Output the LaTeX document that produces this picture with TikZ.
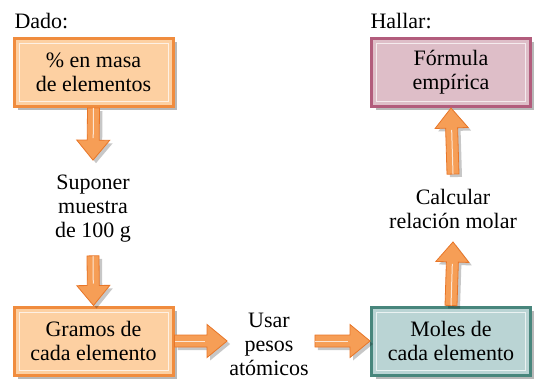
\documentclass[tikz,border=0pt]{standalone}
\usepackage{fontspec}
\setmainfont{Liberation Serif}
\newfontfamily\textoserif{Liberation Serif}
\usetikzlibrary{calc,shadows}

\definecolor{naranja}{RGB}{253,208,162}
\definecolor{naranjaborde}{RGB}{240,140,62}
\definecolor{rosa}{RGB}{222,190,200}
\definecolor{rosaborde}{RGB}{178,92,124}
\definecolor{verde}{RGB}{186,212,212}
\definecolor{verdeborde}{RGB}{72,134,124}
\definecolor{flecha}{RGB}{246,158,86}
\definecolor{flechaborde}{RGB}{232,118,40}

\begin{document}
\begin{tikzpicture}[
  x=1pt, y=-1pt,
  font=\textoserif\fontsize{22}{24}\selectfont,
  box/.style={draw, line width=3pt, minimum width=159pt, minimum height=68pt, align=center,
    drop shadow={shadow xshift=4pt, shadow yshift=-4pt, fill=black, opacity=0.28},
    path picture={\draw[white, opacity=0.7, line width=0.8pt]
      ([shift={(5pt,5pt)}]path picture bounding box.south west) rectangle
      ([shift={(-5pt,-5pt)}]path picture bounding box.north east);}},
  dado/.style={box, draw=naranjaborde, fill=naranja},
  hallar/.style={box, draw=rosaborde, fill=rosa},
  moles/.style={box, draw=verdeborde, fill=verde},
  texto/.style={align=center, inner sep=1pt},
  fat/.style={fill=flecha, draw=flechaborde, line width=0.8pt,
    drop shadow={shadow xshift=3pt, shadow yshift=-3pt, fill=black, opacity=0.22},
    to path={let \p1=($(\tikztotarget)!20pt!(\tikztostart)$) in
      ($(\tikztostart)!6pt!90:(\tikztotarget)$) -- ($(\p1)!6pt!90:(\tikztotarget)$)
      -- ($(\p1)!16.5pt!90:(\tikztotarget)$) -- (\tikztotarget)
      -- ($(\p1)!16.5pt!-90:(\tikztotarget)$) -- ($(\p1)!6pt!-90:(\tikztotarget)$)
      -- ($(\tikztostart)!6pt!-90:(\tikztotarget)$) -- cycle}},
  brillo/.style={white, opacity=0.75, line width=1pt}
]
  \useasboundingbox (0,0) rectangle (534,379);

  \node[anchor=base west] (dadolbl) at (11,29) {Dado:};
  \node[anchor=base west] (hallarlbl) at (367,29) {Hallar:};

  \node[dado]   (masa)    at (93.5,72.5) {\% en masa\\de elementos};
  \node[hallar] (formula) at (451,72.5)  {Fórmula\\empírica};
  \node[dado]   (gramos)  at (93.5,341)  {Gramos de\\cada elemento};
  \node[moles]  (molesel) at (451,341)   {Moles de\\cada elemento};

  \node[texto] (suponer) at (93,209)   {Suponer\\muestra\\de 100 g};
  \node[texto] (usar)    at (269,344)  {Usar\\pesos\\atómicos};
  \node[texto] (calc)    at (453,209)  {Calcular\\relación molar};

  % extremos de las flechas
  \coordinate (p1) at ([yshift=14pt]suponer.north);
  \coordinate (p2) at ([yshift=-12pt]suponer.south);
  \coordinate (p3) at ([xshift=-1pt]gramos.east -| usar.west);
  \coordinate (p4) at ([xshift=5pt]molesel.west -| usar.east);
  \coordinate (p5) at ([yshift=-12pt]calc.south);
  \coordinate (p6) at ([yshift=14pt]calc.north);

  % flechas gruesas
  \draw[fat] (masa.south) to (p1);
  \draw[fat] (p2) to (gramos.north);
  \draw[fat] (gramos.east) to (p3);
  \draw[fat] (p4) to (molesel.west);
  \draw[fat] (molesel.north) to (p5);
  \draw[fat] (p6) to (formula.south);

  % brillo central
  \draw[brillo] (masa.south) -- ($(p1)!22pt!(masa.south)$);
  \draw[brillo] (p2) -- ($(gramos.north)!22pt!(p2)$);
  \draw[brillo] (gramos.east) -- ($(p3)!22pt!(gramos.east)$);
  \draw[brillo] (p4) -- ($(molesel.west)!22pt!(p4)$);
  \draw[brillo] (molesel.north) -- ($(p5)!22pt!(molesel.north)$);
  \draw[brillo] (p6) -- ($(formula.south)!22pt!(p6)$);
\end{tikzpicture}
\end{document}
